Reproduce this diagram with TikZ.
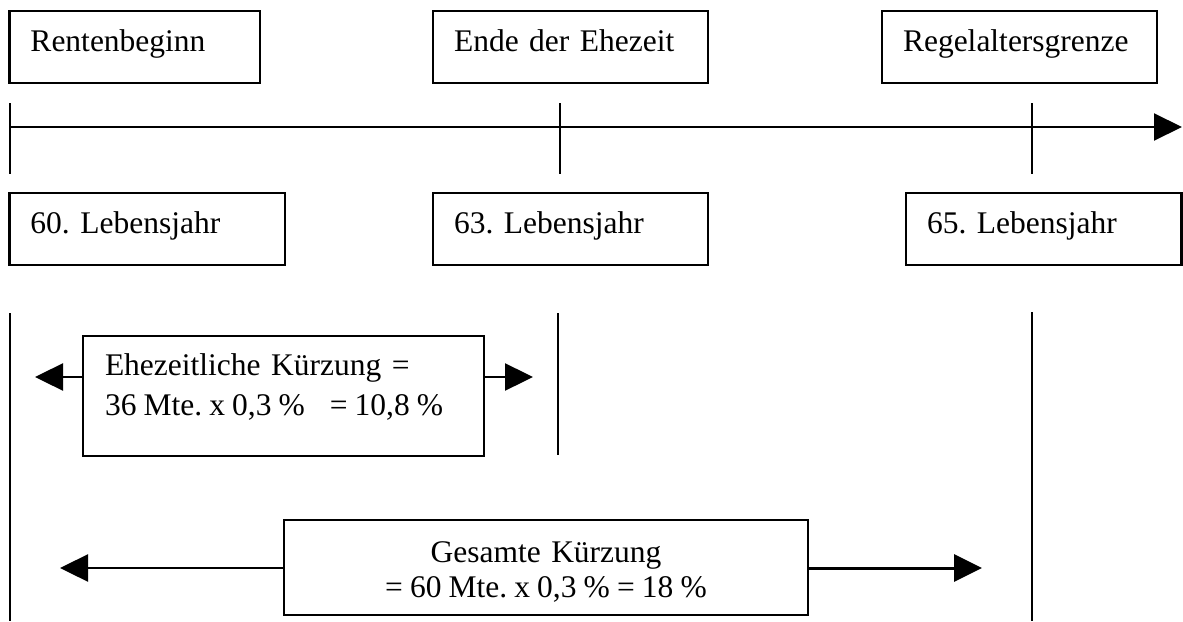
\documentclass[tikz,border=0pt]{standalone}
\usepackage{fontspec}
\setmainfont{Liberation Serif}
\usetikzlibrary{arrows.meta}
\begin{document}
\frenchspacing
\begin{tikzpicture}[x=1pt,y=-1pt,
  box/.style={draw, line width=2.6pt, rectangle, inner xsep=21pt, inner ysep=0pt,
    align=left, font=\fontsize{31.5}{40}\selectfont\frenchspacing,
    text height=22pt, text depth=14pt, minimum height=72pt},
  tick/.style={line width=2pt},
  arr/.style={line width=2.4pt, -{Triangle[length=28pt,width=27pt]}}]
\useasboundingbox (0,0) rectangle (1183,621);

% top boxes
\node[box, minimum width=250.5pt, text width=208.5pt] (rb) at (134.75,47) {Rentenbeginn};
\node[box, minimum width=275pt, text width=233pt] (ee) at (570.5,47) {Ende der Ehezeit};
\node[box, minimum width=275pt, text width=233pt] (rg) at (1019.5,47) {\mbox{Regelaltersgrenze}};

% timeline
\coordinate (t0) at (9.5,127);
\coordinate (tE) at (1182,127);
\draw[arr, line width=2pt] (t0) -- (tE);
\coordinate (k1a) at (9.5,103);  \coordinate (k1b) at (9.5,174);
\coordinate (k2a) at (560,103);  \coordinate (k2b) at (560,174);
\coordinate (k3a) at (1032,103); \coordinate (k3b) at (1032,174);
\draw[tick] (k1a) -- (k1b);
\draw[tick] (k2a) -- (k2b);
\draw[tick] (k3a) -- (k3b);

% age boxes
\node[box, minimum width=275.5pt, text width=233.5pt] (l60) at (147.25,229) {60. Lebensjahr};
\node[box, minimum width=275pt, text width=233pt] (l63) at (570.5,229) {63. Lebensjahr};
\node[box, minimum width=275.5pt, text width=233.5pt] (l65) at (1043.75,229) {65. Lebensjahr};

% lower verticals
\coordinate (v1a) at (9.5,313);  \coordinate (v1b) at (9.5,621);
\coordinate (v2a) at (558,313);  \coordinate (v2b) at (558,455);
\coordinate (v3a) at (1032,312); \coordinate (v3b) at (1032,621);
\draw[tick] (v1a) -- (v1b);
\draw[tick] (v2a) -- (v2b);
\draw[tick] (v3a) -- (v3b);

% Ehezeitliche Kuerzung
\node[box, inner xsep=22pt, minimum width=401pt, text width=357pt, minimum height=120pt,
  text height=22pt, text depth=64pt] (ehe) at (283.5,396)
  {\mbox{Ehezeitliche Kürzung =}\\\mbox{\spaceskip=7.1pt 36 Mte. x 0,3 \%\hspace{25pt}= 10,8 \%}};
\coordinate (eL) at (35,377);
\coordinate (eR) at (533,377);
\draw[arr] (ehe.west |- eL) -- (eL);
\draw[arr] (ehe.east |- eR) -- (eR);

% Gesamte Kuerzung
\node[box, align=center, font=\fontsize{31.5}{35}\selectfont\frenchspacing, minimum width=524pt,
  text width=482pt, minimum height=95pt, text height=22pt, text depth=33pt] (ges) at (546,567.5)
  {Gesamte Kürzung\\\mbox{\spaceskip=7.1pt = 60 Mte. x 0,3 \% = 18 \%}};
\coordinate (gL) at (60,568);
\coordinate (gR) at (982,568);
\draw[arr] (ges.west |- gL) -- (gL);
\draw[arr, line width=3pt] (ges.east |- gR) -- (gR);
\end{tikzpicture}
\end{document}
